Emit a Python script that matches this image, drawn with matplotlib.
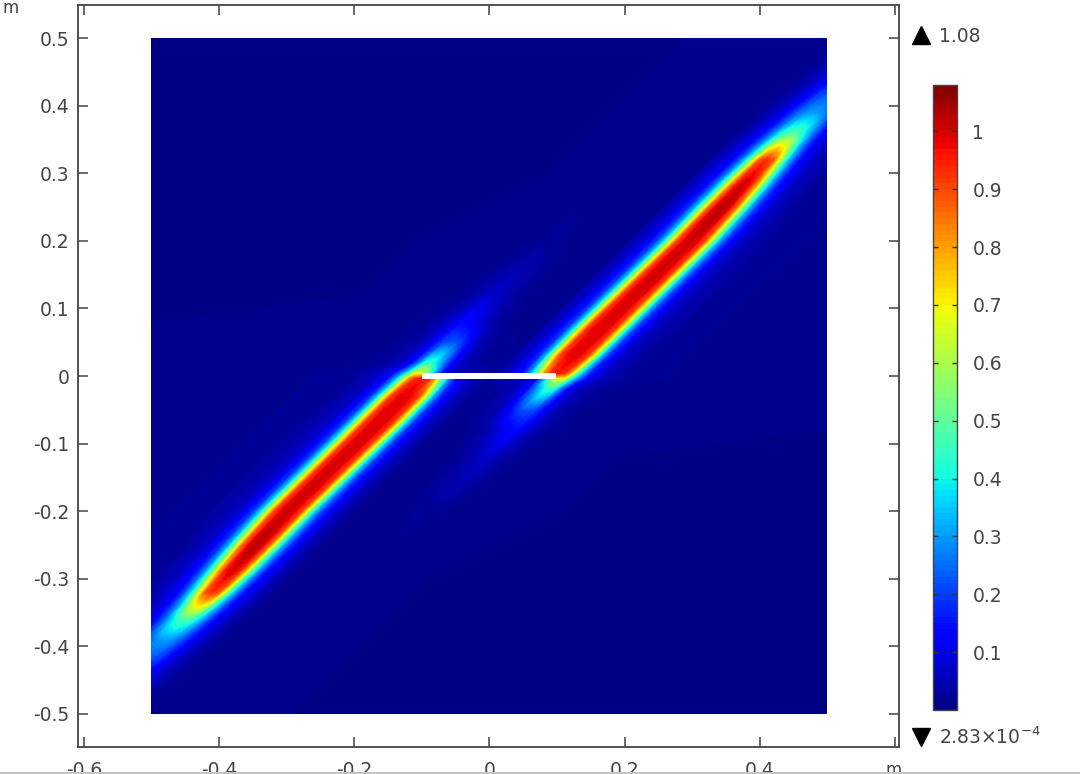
import matplotlib
matplotlib.use("Agg")
import matplotlib.pyplot as plt
import numpy as np
from matplotlib.lines import Line2D
from matplotlib.patches import Rectangle
from matplotlib.tri import Triangulation

plt.rcParams["axes.unicode_minus"] = False

TEXTO = "#444444"

# campo: metade direita (y < x), a esquerda e o espelho pelo centro
alturas = [-0.50, -0.30, -0.20, -0.12, -0.08, -0.05, -0.018, -0.004,
           0.004, 0.03, 0.07, 0.12, 0.20, 0.25, 0.29, 0.32, 0.34, 0.36, 0.39, 0.43, 0.50]
centros = [0.01, 0.01, 0.01, 0.01, 0.01, 0.006, 0.005, 0.005,
           -0.004, -0.005, -0.005, -0.004, -0.002, -0.005, -0.008, -0.010, -0.011, -0.011, -0.010, -0.008, -0.008]
deslocamentos = [-0.07, -0.05, -0.04, -0.03, -0.02, -0.01, 0.0, 0.01, 0.02, 0.03, 0.04, 0.05, 0.07, 0.10, 0.20, 1.0]
costura = [0.010, 0.012, 0.013, 0.014, 0.016, 0.018, 0.020, 0.022,
           0.020, 0.018, 0.016, 0.015, 0.014, 0.014, 0.014, 0.014, 0.013, 0.013, 0.012, 0.012, 0.010]
campo = [
    [0.010, 0.010, 0.010, 0.010, 0.010, 0.010, 0.010, 0.010, 0.010, 0.010, 0.010, 0.010, 0.010, 0.010, 0.008, 0.006],
    [0.011, 0.012, 0.012, 0.013, 0.013, 0.013, 0.013, 0.013, 0.013, 0.013, 0.012, 0.012, 0.011, 0.010, 0.008, 0.006],
    [0.014, 0.015, 0.016, 0.018, 0.020, 0.022, 0.024, 0.022, 0.020, 0.018, 0.016, 0.015, 0.014, 0.012, 0.010, 0.006],
    [0.016, 0.018, 0.022, 0.028, 0.040, 0.050, 0.065, 0.070, 0.050, 0.040, 0.028, 0.022, 0.016, 0.014, 0.010, 0.006],
    [0.018, 0.022, 0.032, 0.050, 0.070, 0.100, 0.125, 0.140, 0.100, 0.070, 0.050, 0.032, 0.022, 0.016, 0.012, 0.006],
    [0.022, 0.040, 0.060, 0.100, 0.160, 0.210, 0.220, 0.210, 0.160, 0.100, 0.060, 0.040, 0.022, 0.016, 0.012, 0.006],
    [0.030, 0.050, 0.080, 0.130, 0.240, 0.350, 0.450, 0.420, 0.250, 0.130, 0.080, 0.050, 0.030, 0.020, 0.014, 0.006],
    [0.040, 0.070, 0.090, 0.120, 0.300, 0.500, 0.670, 0.650, 0.400, 0.250, 0.150, 0.100, 0.050, 0.030, 0.015, 0.006],
    [0.060, 0.150, 0.280, 0.480, 0.780, 0.930, 0.960, 0.930, 0.780, 0.480, 0.280, 0.150, 0.060, 0.030, 0.015, 0.006],
    [0.070, 0.190, 0.350, 0.660, 0.910, 0.970, 0.990, 0.970, 0.910, 0.660, 0.350, 0.190, 0.070, 0.030, 0.015, 0.006],
    [0.075, 0.200, 0.370, 0.680, 0.920, 0.980, 0.990, 0.980, 0.920, 0.680, 0.370, 0.200, 0.075, 0.032, 0.015, 0.006],
    [0.075, 0.200, 0.360, 0.650, 0.910, 0.980, 1.000, 0.980, 0.910, 0.650, 0.360, 0.200, 0.075, 0.032, 0.015, 0.006],
    [0.075, 0.200, 0.350, 0.620, 0.900, 0.980, 1.010, 0.980, 0.900, 0.620, 0.350, 0.200, 0.075, 0.032, 0.015, 0.006],
    [0.070, 0.190, 0.320, 0.560, 0.860, 0.990, 1.030, 0.990, 0.860, 0.560, 0.320, 0.190, 0.070, 0.030, 0.015, 0.006],
    [0.065, 0.160, 0.270, 0.460, 0.760, 0.950, 1.000, 0.950, 0.760, 0.460, 0.270, 0.160, 0.065, 0.030, 0.014, 0.006],
    [0.060, 0.130, 0.220, 0.370, 0.620, 0.880, 0.930, 0.880, 0.620, 0.370, 0.220, 0.130, 0.060, 0.028, 0.013, 0.006],
    [0.050, 0.110, 0.190, 0.300, 0.470, 0.660, 0.720, 0.660, 0.470, 0.300, 0.190, 0.110, 0.050, 0.025, 0.012, 0.006],
    [0.040, 0.100, 0.160, 0.250, 0.360, 0.450, 0.480, 0.450, 0.360, 0.250, 0.160, 0.100, 0.040, 0.022, 0.012, 0.006],
    [0.035, 0.085, 0.130, 0.190, 0.250, 0.290, 0.300, 0.290, 0.250, 0.190, 0.130, 0.085, 0.035, 0.020, 0.012, 0.006],
    [0.030, 0.060, 0.090, 0.130, 0.170, 0.190, 0.200, 0.190, 0.170, 0.130, 0.090, 0.060, 0.030, 0.018, 0.010, 0.006],
    [0.020, 0.040, 0.050, 0.070, 0.090, 0.100, 0.100, 0.100, 0.090, 0.070, 0.050, 0.040, 0.020, 0.015, 0.010, 0.006],
]

fissura_x = [-0.1, 0.098]
fissura_y = [0.0, 0.0]

ticks_x = [-0.6, -0.4, -0.2, 0.0, 0.2, 0.4, 0.6]
rotulos_x = ["-0.6", "-0.4", "-0.2", "0", "0.2", "0.4", ""]
ticks_y = [-0.5, -0.4, -0.3, -0.2, -0.1, 0.0, 0.1, 0.2, 0.3, 0.4, 0.5]
rotulos_y = ["-0.5", "-0.4", "-0.3", "-0.2", "-0.1", "0", "0.1", "0.2", "0.3", "0.4", "0.5"]
ticks_barra = [0.1, 0.2, 0.3, 0.4, 0.5, 0.6, 0.7, 0.8, 0.9, 1.0]
rotulos_barra = ["0.1", "0.2", "0.3", "0.4", "0.5", "0.6", "0.7", "0.8", "0.9", "1"]
valor_max = "1.08"
valor_min = "2.83×10$^{-4}$"
escala_max = 1.08


def monta_malha():
    h = np.array(alturas)
    c = np.array(centros)
    d = np.array(deslocamentos)
    xs = h[:, None] + 0.1 + c[:, None] + d[None, :]
    # primeira coluna fica sobre a linha y = x, onde as duas metades se encontram
    xs = np.column_stack([h - 0.004, xs])
    ys = np.repeat(h[:, None], xs.shape[1], axis=1)
    zs = np.column_stack([np.array(costura), np.array(campo)])

    n_lin, n_col = xs.shape
    triangulos = []
    for i in range(n_lin - 1):
        for j in range(n_col - 1):
            a = i * n_col + j
            b = a + 1
            e = a + n_col
            f = e + 1
            triangulos.append([a, b, f])
            triangulos.append([a, f, e])
    return xs.ravel(), ys.ravel(), zs.ravel(), np.array(triangulos)


def px_x(px):
    return px / 1080


def px_y(py):
    return 1 - py / 774


fig = plt.figure(figsize=(10.8, 7.74), dpi=100)
ax = fig.add_axes([px_x(78), px_y(747), (899 - 78) / 1080, (747 - 5) / 774])

xs, ys, zs, triangulos = monta_malha()
niveis = np.linspace(0, escala_max, 109)
tri_dir = Triangulation(xs, ys, triangulos)
tri_esq = Triangulation(-xs, -ys, triangulos)
cs = ax.tricontourf(tri_dir, zs, levels=niveis, cmap="jet")
cs2 = ax.tricontourf(tri_esq, zs, levels=niveis, cmap="jet")
dominio = Rectangle((-0.5, -0.5), 1, 1, transform=ax.transData, facecolor="none", edgecolor="none")
ax.add_patch(dominio)
cs.set_clip_path(dominio)
cs2.set_clip_path(dominio)

ax.plot(fissura_x, fissura_y, color="white", linewidth=4.3, solid_capstyle="butt", zorder=5)

ax.set_xlim(-0.6087, 0.606)
ax.set_ylim(-0.5496, 0.5496)
ax.set_xticks(ticks_x, rotulos_x)
ax.set_yticks(ticks_y, rotulos_y)
ax.tick_params(axis="x", direction="in", top=True, length=7, width=1.1, color=TEXTO,
               labelcolor=TEXTO, labelsize=13.5, pad=10)
ax.tick_params(axis="y", direction="in", right=True, length=7, width=1.1, color=TEXTO,
               labelcolor=TEXTO, labelsize=13.5, pad=6)
for spine in ax.spines.values():
    spine.set_color(TEXTO)
    spine.set_linewidth(1.3)

cax = fig.add_axes([px_x(933), px_y(710), (957 - 933) / 1080, (710 - 85) / 774])
barra = fig.colorbar(cs, cax=cax)
barra.set_ticks(ticks_barra, labels=rotulos_barra)
barra.outline.set_edgecolor(TEXTO)
barra.outline.set_linewidth(1.0)
cax.tick_params(direction="in", left=True, right=True, length=3.5, width=1.0, color="#333333",
                labelcolor=TEXTO, labelsize=13.5, pad=11)

fig.text(px_x(11), px_y(8), "m", fontsize=12, color=TEXTO, ha="center", va="center")
fig.text(px_x(894), px_y(770), "m", fontsize=12, color=TEXTO, ha="center", va="center")

fig.add_artist(Line2D([px_x(921)], [px_y(35)], marker="^", markersize=12.5, color="black",
                      linestyle="none", transform=fig.transFigure))
fig.add_artist(Line2D([px_x(921)], [px_y(737)], marker="v", markersize=12.5, color="black",
                      linestyle="none", transform=fig.transFigure))
fig.text(px_x(939), px_y(36), valor_max, fontsize=13.5, color=TEXTO, ha="left", va="center")
fig.text(px_x(939), px_y(737), valor_min, fontsize=13.5, color=TEXTO, ha="left", va="center")

# faixa cinza que corta a imagem no rodape
fig.add_artist(Rectangle((0, 0), 1, 2.5 / 774, transform=fig.transFigure, facecolor="#c4c4c4",
                         edgecolor="none", zorder=10))

fig.savefig("out.png", dpi=100)
